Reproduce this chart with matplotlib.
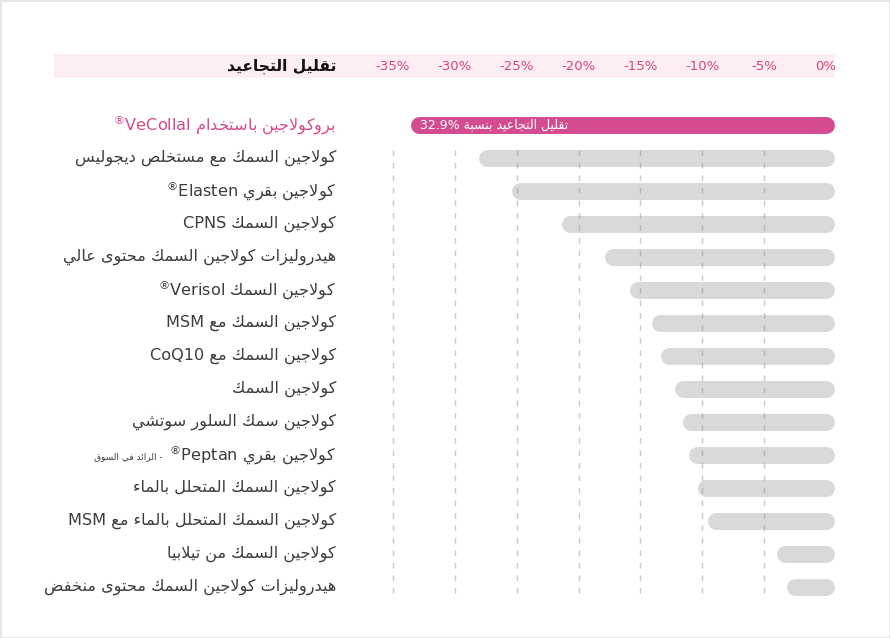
import numpy as np
import matplotlib
matplotlib.use('Agg')
import matplotlib.pyplot as plt
from matplotlib import transforms
from matplotlib.patches import Rectangle


# ============================================================
# 数据
# ============================================================
header_title = 'تقليل التجاعيد'
tick_values = [-35, -30, -25, -20, -15, -10, -5, 0]
tick_labels = ['-35%', '-30%', '-25%', '-20%', '-15%', '-10%', '-5%', '0%']

products = [
    'بروكولاجين باستخدام VeCollal®',
    'كولاجين السمك مع مستخلص ديجوليس',
    'كولاجين بقري Elasten®',
    'كولاجين السمك CPNS',
    'هيدروليزات كولاجين السمك محتوى عالي',
    'كولاجين السمك Verisol®',
    'كولاجين السمك مع MSM',
    'كولاجين السمك مع CoQ10',
    'كولاجين السمك',
    'كولاجين سمك السلور سوتشي',
    'كولاجين بقري Peptan®',
    'كولاجين السمك المتحلل بالماء',
    'كولاجين السمك المتحلل بالماء مع MSM',
    'كولاجين السمك من تيلابيا',
    'هيدروليزات كولاجين السمك محتوى منخفض',
]
reduction = [32.9, 27.4, 24.7, 20.7, 17.2, 15.2, 13.4, 12.7,
             11.6, 10.9, 10.4, 9.7, 8.9, 3.3, 2.5]
highlight_text = 'تقليل التجاعيد بنسبة 32.9%'
note_index = 10
note_text = '- الرائد في السوق'


# ============================================================
# 阿拉伯文字形 + 简单的 RTL 排序 (matplotlib 不做 shaping)
# ============================================================
DUAL = {'ب': 0xFE8F, 'ت': 0xFE95, 'ث': 0xFE99, 'ج': 0xFE9D, 'ح': 0xFEA1,
        'خ': 0xFEA5, 'س': 0xFEB1, 'ش': 0xFEB5, 'ص': 0xFEB9, 'ض': 0xFEBD,
        'ط': 0xFEC1, 'ظ': 0xFEC5, 'ع': 0xFEC9, 'غ': 0xFECD, 'ف': 0xFED1,
        'ق': 0xFED5, 'ك': 0xFED9, 'ل': 0xFEDD, 'م': 0xFEE1, 'ن': 0xFEE5,
        'ه': 0xFEE9, 'ي': 0xFEF1, 'ئ': 0xFE89}
RIGHT = {'ا': 0xFE8D, 'أ': 0xFE83, 'إ': 0xFE87, 'آ': 0xFE81, 'ة': 0xFE93,
         'د': 0xFEA9, 'ذ': 0xFEAB, 'ر': 0xFEAD, 'ز': 0xFEAF, 'و': 0xFEED,
         'ى': 0xFEEF, 'ؤ': 0xFE85}


def is_arabic(tok):
    return any('\u0600' <= c <= '\u06FF' for c in tok)


def shape_word(word):
    out = []
    prev = False
    i = 0
    while i < len(word):
        c = word[i]
        nxt = word[i + 1] if i + 1 < len(word) else ''
        if c == 'ل' and nxt == 'ا':
            out.append(chr(0xFEFC if prev else 0xFEFB))
            prev = False
            i += 2
            continue
        if c in DUAL:
            base = DUAL[c]
            nj = nxt in DUAL or nxt in RIGHT
            if prev and nj:
                f = base + 3
            elif prev:
                f = base + 1
            elif nj:
                f = base + 2
            else:
                f = base
            out.append(chr(f))
            prev = True
        elif c in RIGHT:
            out.append(chr(RIGHT[c] + 1 if prev else RIGHT[c]))
            prev = False
        elif c == 'ء':
            out.append('\uFE80')
            prev = False
        else:
            out.append(c)
            prev = False
        i += 1
    return ''.join(out)


def visual(text):
    toks = []
    for tok in text.split(' ')[::-1]:
        if is_arabic(tok):
            toks.append(shape_word(tok)[::-1])
        elif tok.endswith('®'):
            # ® 在 RTL 段落里跑到左边，画成小上标
            toks.append('$^{®}$' + tok[:-1])
        else:
            toks.append(tok)
    return ' '.join(toks)


# ============================================================
# 画图
# ============================================================
plt.rcParams['font.family'] = ['DejaVu Sans']
plt.rcParams['mathtext.fontset'] = 'dejavusans'

W, H = 890, 638
S = 12.37          # px per %
X0 = 826           # px of 0%
ROW0, ROWH = 125, 33

fig = plt.figure(figsize=(W / 100, H / 100), dpi=100)
fig.patch.set_facecolor('white')
fig.patches.append(Rectangle((0, 0), 1, 1, transform=fig.transFigure,
                             fill=False, edgecolor='#e6e6e6', lw=2))

ax = fig.add_axes([0, 0, 1, 1])
ax.axis('off')
ax.set_xlim(-X0 / S, (W - X0) / S)
ax.set_ylim((H - ROW0) / ROWH, -ROW0 / ROWH)
mix = transforms.blended_transform_factory(ax.transAxes, ax.transData)

y = np.arange(len(products))
head_y = (66 - ROW0) / ROWH

# header band
ax.add_patch(Rectangle((54 / W, head_y - 0.35), (835 - 54) / W, 0.70,
                       transform=mix, facecolor='#fdeef3', edgecolor='none', zorder=0))
ax.text(336 / W, head_y, visual(header_title), transform=mix, ha='right', va='center',
        fontsize=11.2, fontweight='bold', color='#111111')
for v, lab in zip(tick_values, tick_labels):
    ax.text(v, head_y, lab, ha='center', va='center', fontsize=9.5, color='#d9437a')

# dashed grid
ax.vlines([v for v in tick_values if v != 0], 0.75, len(products) - 0.75,
          colors='#888888', alpha=0.45, linestyles=(0, (4, 5)), lw=1, zorder=3)

# bars
vals = -np.array(reduction)
colors = ['#d44c8f'] + ['#d9d9d9'] * (len(products) - 1)
ax.hlines(y, vals, 0, colors=colors, lw=12.2, capstyle='round', zorder=2)

ax.text(vals[0] + 0.1, 0, visual(highlight_text), ha='left', va='center',
        fontsize=9, color='white', zorder=4)

# labels
for i, name in enumerate(products):
    col = '#d64a8c' if i == 0 else '#3c3c3c'
    t = ax.text(336 / W, i, visual(name), transform=mix, ha='right', va='center',
                fontsize=11.6, color=col)
    if i == note_index:
        ax.annotate(visual(note_text), xy=(0, 0.45), xycoords=t,
                    xytext=(-5, 0), textcoords='offset points',
                    ha='right', va='center', fontsize=6.5, color='#3c3c3c')

plt.savefig('out.png', dpi=100)
plt.close()
